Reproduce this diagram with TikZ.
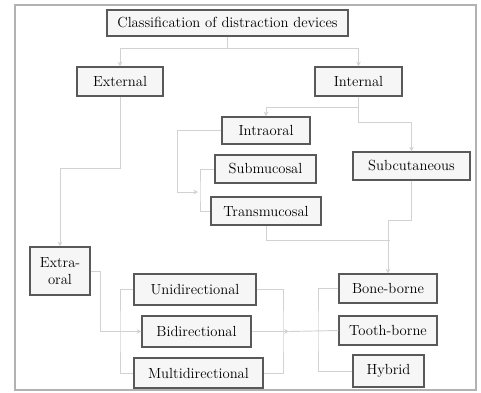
\documentclass[tikz,border=0pt]{standalone}
\usepackage{tikz}
\usetikzlibrary{arrows.meta,positioning}

\tikzset{
  box/.style={draw=gray!70!black, line width=1.1pt, fill=gray!7, inner sep=1pt, font=\fontsize{12.5}{14}\selectfont},
  link/.style={draw=gray!35, line width=0.8pt},
  arr/.style={link, -{Stealth[length=4pt,width=4pt]}},
}

\begin{document}
\begin{tikzpicture}[x=0.3mm, y=-0.3mm]
\useasboundingbox (0,0) rectangle (481,393);
% outer frame
\draw[gray!60, line width=1.5pt] (15,5) rectangle (476,390);

% boxes
\node[box, minimum width=72.3mm, minimum height=7.8mm] (top) at (227.5,23) {Classification of distraction devices};
\node[box, minimum width=25.8mm, minimum height=8.7mm] (ext) at (120,81.5) {External};
\node[box, minimum width=26.1mm, minimum height=8.7mm] (int) at (358.5,81.5) {Internal};
\node[box, minimum width=26.4mm, minimum height=8.1mm] (intra) at (266,130.5) {Intraoral};
\node[box, minimum width=30.3mm, minimum height=8.4mm] (submuc) at (265.5,169) {Submucosal};
\node[box, minimum width=33mm, minimum height=8.4mm] (transmuc) at (266,211) {Transmucosal};
\node[box, minimum width=35.1mm, minimum height=8.4mm] (subcut) at (411.5,166) {Subcutaneous};
\node[box, minimum width=18mm, minimum height=14.4mm, align=center] (extraoral) at (60,271) {Extra-\\oral};
\node[box, minimum width=36.6mm, minimum height=9.3mm] (uni) at (195,289.5) {Unidirectional};
\node[box, minimum width=32.7mm, minimum height=9.3mm] (bi) at (196.5,331.5) {Bidirectional};
\node[box, minimum width=38.7mm, minimum height=9mm] (multi) at (198.5,373) {Multidirectional};
\node[box, minimum width=29.4mm, minimum height=8.7mm] (bone) at (388,288.5) {Bone-borne};
\node[box, minimum width=29.4mm, minimum height=8.7mm] (tooth) at (388,330.5) {Tooth-borne};
\node[box, minimum width=21.3mm, minimum height=9.6mm] (hybrid) at (388.5,371) {Hybrid};

% joints
\coordinate (intrajoin) at (198,192);
\coordinate (brA) at (200,192);
\coordinate (extjoin) at (100,331.5);
\coordinate (brL) at (120,331.5);
\coordinate (brR) at (283,331.5);
\coordinate (mid) at (289,331.5);
\coordinate (brB) at (318,331.5);
\coordinate (meet) at (390,240);

% top level
\draw[arr] (top.south) -- ++(0,12) -| (ext.north);
\draw[arr] (top.south) ++(0,12) -| (int.north);

% internal
\draw[arr] (int.south) -- ++(0,11) -| (intra.north);
\draw[arr] (int.south) -- ++(0,26) -| (subcut.north);
\draw[arr] (intra.west) -| (177,192) -- (intrajoin);
\draw[link] (submuc.west) -| (brA) |- (transmuc.west);
\draw[link] (transmuc.south) |- (meet);
\draw[arr] (subcut.south) -- ++(0,40) -| (bone.north);

% external
\draw[arr] (ext.south) -- ++(0,72) -| (extraoral.north);
\draw[arr] (extraoral.east) -| (extjoin) -- (bi.west);

% direction and support groups
\draw[link] (uni.west) -| (brL) |- (multi.west);
\draw[link] (uni.east) -| (brR) |- (multi.east);
\draw[arr] (bi.east) -- (mid);
\draw[link] (mid) -- (tooth.west);
\draw[link] (bone.west) -| (brB) |- (hybrid.west);
\end{tikzpicture}
\end{document}
